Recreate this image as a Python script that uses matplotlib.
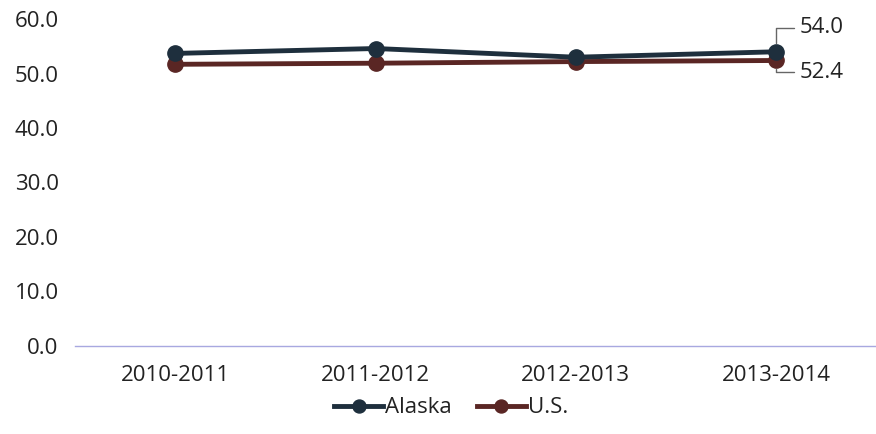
import matplotlib
matplotlib.use("Agg")
import matplotlib.pyplot as plt

years = ["2010-2011", "2011-2012", "2012-2013", "2013-2014"]
alaska = [53.7, 54.6, 53.0, 54.0]
us = [51.7, 51.9, 52.2, 52.4]
yticks = [0, 10, 20, 30, 40, 50, 60]

plt.rcParams['font.family'] = ['Open Sans', 'DejaVu Sans']
fs = 16

fig = plt.figure(figsize=(8.76, 4.34), dpi=100)
ax = fig.add_axes([0.086, 0.203, 0.914, 0.753])

c_ak = "#1e2f3d"
c_us = "#5a2624"
x = list(range(len(years)))
ax.plot(x, alaska, color=c_ak, lw=3.5, marker="o", ms=11, label="Alaska", zorder=3)
ax.plot(x, us, color=c_us, lw=3.5, marker="o", ms=11, label="U.S.", zorder=2)

ax.set_xlim(-0.5, 3.5)
ax.set_ylim(0, 60)
ax.set_yticks(yticks)
ax.set_yticklabels([f"{v:.1f}" for v in yticks])
ax.set_xticks(x)
ax.set_xticklabels(years)
ax.tick_params(length=0, labelsize=fs, colors="#222222")
ax.tick_params(axis="x", pad=14)
ax.tick_params(axis="y", pad=12)
for s in ["top", "right", "left"]:
    ax.spines[s].set_visible(False)
ax.spines["bottom"].set_color("#a8a8e0")
ax.spines["bottom"].set_linewidth(1)

lbl_kw = dict(fontsize=fs, color="#222222", va="center", ha="left")
arrow = dict(arrowstyle="-", color="#666666", lw=1,
             connectionstyle="angle,angleA=0,angleB=90,rad=0",
             shrinkA=2, shrinkB=6)
ax.annotate(f"{alaska[-1]:.1f}", xy=(3, alaska[-1]), xytext=(3.12, 58.4),
            arrowprops=arrow, **lbl_kw)
ax.annotate(f"{us[-1]:.1f}", xy=(3, us[-1]), xytext=(3.12, 50.2),
            arrowprops=arrow, **lbl_kw)

fig.legend(loc="lower center", bbox_to_anchor=(0.515, -0.01), ncol=2, frameon=False,
           fontsize=fs, handlelength=2.2, handletextpad=0.1, columnspacing=1.1,
           labelcolor="#222222", markerscale=0.85)

fig.savefig("out.png", dpi=100)
